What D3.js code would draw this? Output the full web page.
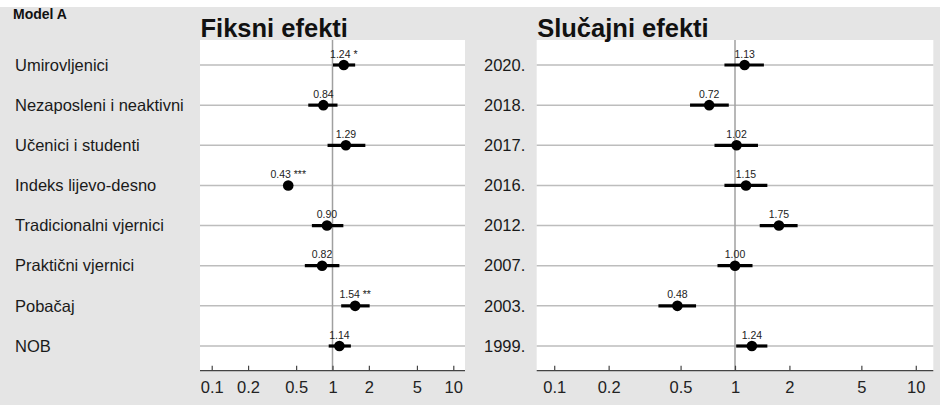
<!DOCTYPE html>
<html><head><meta charset="utf-8">
<script src="https://cdn.jsdelivr.net/npm/d3@7"></script>
<style>body{margin:0;background:#fff}svg{display:block;font-family:"Liberation Sans",Arial,sans-serif}</style>
</head><body><svg id="c" width="940" height="405"></svg>
<script>
const fixedLabels = ["Umirovljenici","Nezaposleni i neaktivni","Učenici i studenti","Indeks lijevo-desno","Tradicionalni vjernici","Praktični vjernici","Pobačaj","NOB"];
const fixedEst = [1.24,0.84,1.29,0.43,0.90,0.82,1.54,1.14];
const fixedLo  = [1.01,0.63,0.91,0.40,0.675,0.59,1.18,0.93];
const fixedHi  = [1.54,1.10,1.87,0.47,1.23,1.14,2.03,1.42];
const fixedStars = ["*","","","***","","","**",""];

const randLabels = ["2020.","2018.","2017.","2016.","2012.","2007.","2003.","1999."];
const randEst = [1.13,0.72,1.02,1.15,1.75,1.00,0.48,1.24];
const randLo  = [0.874,0.564,0.77,0.874,1.37,0.80,0.377,1.015];
const randHi  = [1.445,0.924,1.34,1.51,2.22,1.25,0.609,1.51];
const randStars = ["","","","","","","",""];

const tickVals = [0.1,0.2,0.5,1,2,5,10];
const tickLabels = ["0.1","0.2","0.5","1","2","5","10"];
const titles = ["Fiksni efekti","Slučajni efekti"];

const svg = d3.select("#c");
svg.append("rect").attr("x",0).attr("y",7).attr("width",940).attr("height",398).attr("fill","#e5e5e5");
svg.append("text").attr("x",13).attr("y",18.5).attr("font-size",14).attr("font-weight","bold").attr("fill","#111").text("Model A");

const plotTop = 40, axisY = 370.7;
function panel(cfg){
  const {x0,x1,labelX,labels,est,lo,hi,stars,title} = cfg;
  const x = d3.scaleLog().domain([0.08,12.5]).range([x0,x1]);
  const y = d3.scalePoint().domain(labels).range([65,346]);
  const g = svg.append("g");
  g.append("rect").attr("x",x0).attr("y",plotTop).attr("width",x1-x0).attr("height",axisY-plotTop).attr("fill","#fff");
  g.append("text").attr("x",x0+0.5).attr("y",37).attr("font-size",25.5).attr("font-weight","bold").attr("fill","#111").text(title);
  g.selectAll("line.grid").data(labels).join("line").attr("class","grid")
    .attr("x1",x0).attr("x2",x1).attr("y1",d=>y(d)).attr("y2",d=>y(d))
    .attr("stroke","#bdbdbd").attr("stroke-width",1.5);
  g.append("line").attr("x1",x(1)).attr("x2",x(1)).attr("y1",plotTop).attr("y2",axisY)
    .attr("stroke","#a0a0a0").attr("stroke-width",1.5);
  const ax = d3.axisBottom(x).tickValues(tickVals).tickFormat((d,i)=>tickLabels[i]).tickSizeInner(-5).tickSizeOuter(0).tickPadding(11);
  const ag = g.append("g").attr("transform",`translate(0,${axisY})`).call(ax);
  ag.select(".domain").attr("stroke","#444").attr("stroke-width",1.2).attr("d",`M${x0},0H${x1}`);
  ag.selectAll(".tick line").attr("stroke","#444").attr("stroke-width",1.2);
  ag.selectAll(".tick text").attr("font-size",16.5).attr("fill","#222").attr("font-family","Liberation Sans, Arial, sans-serif");
  g.selectAll("text.lab").data(labels).join("text").attr("class","lab")
    .attr("x",labelX).attr("y",d=>y(d)).attr("dy","0.35em").attr("font-size",16.5).attr("fill","#1a1a1a").text(d=>d);
  const data = labels.map((l,i)=>({l,e:est[i],lo:lo[i],hi:hi[i],s:stars[i]}));
  g.selectAll("line.ci").data(data).join("line").attr("class","ci")
    .attr("x1",d=>x(d.lo)).attr("x2",d=>x(d.hi)).attr("y1",d=>y(d.l)).attr("y2",d=>y(d.l))
    .attr("stroke","#000").attr("stroke-width",3.2);
  g.selectAll("circle.pt").data(data).join("circle").attr("class","pt")
    .attr("cx",d=>x(d.e)).attr("cy",d=>y(d.l)).attr("r",5.3).attr("fill","#000");
  g.selectAll("text.val").data(data).join("text").attr("class","val")
    .attr("x",d=>x(d.e)).attr("y",d=>y(d.l)-7.5).attr("text-anchor","middle").attr("font-size",10.5).attr("fill","#222")
    .text(d=>d.e.toFixed(2)+(d.s?" "+d.s:""));
}
panel({x0:200,x1:465,labelX:15,labels:fixedLabels,est:fixedEst,lo:fixedLo,hi:fixedHi,stars:fixedStars,title:titles[0]});
panel({x0:536.7,x1:933.3,labelX:484,labels:randLabels,est:randEst,lo:randLo,hi:randHi,stars:randStars,title:titles[1]});
</script></body></html>
